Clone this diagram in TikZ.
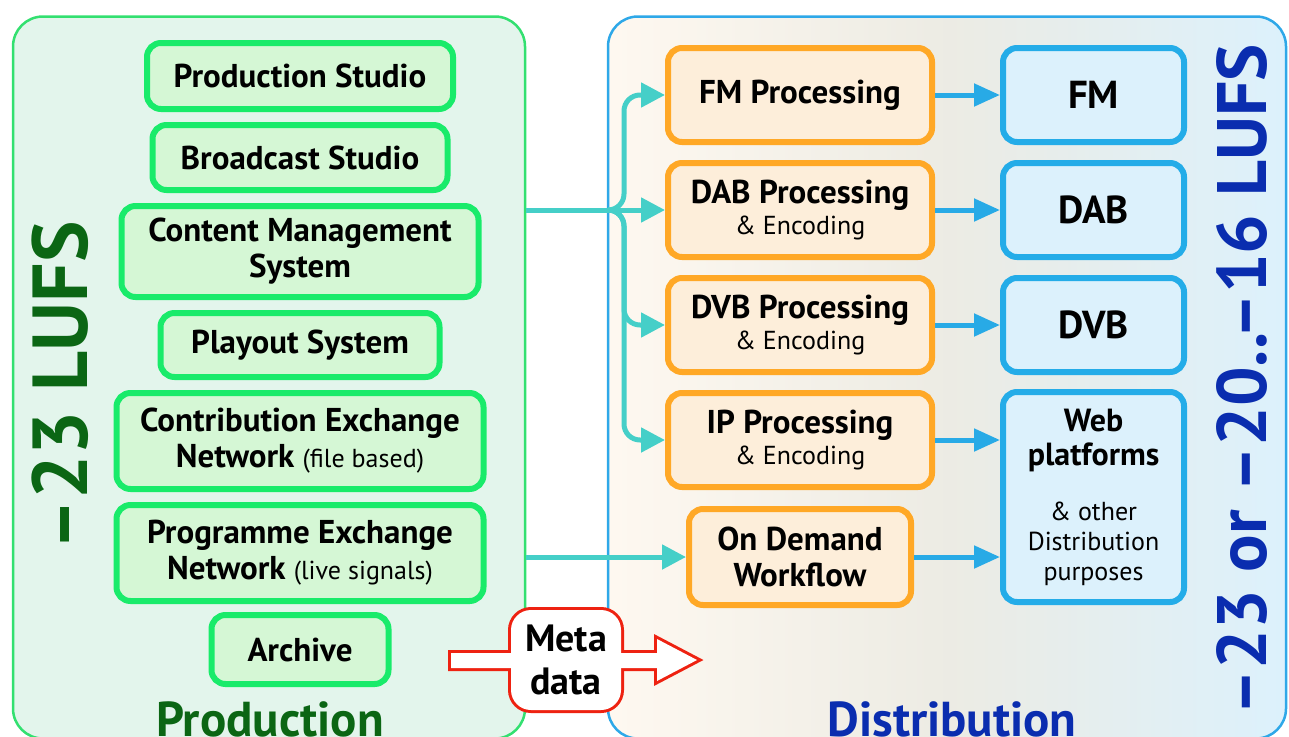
\documentclass[tikz,border=0pt]{standalone}
\usepackage{fontspec}
\setmainfont{PT Sans}
\usetikzlibrary{positioning}
\usetikzlibrary{arrows.meta}
\definecolor{prodline}{HTML}{19EB6A}
\definecolor{prodfill}{HTML}{D5F7D5}
\definecolor{prodpanelline}{HTML}{33E070}
\definecolor{prodpanelfill}{HTML}{E3F5EC}
\definecolor{prodtext}{HTML}{0B6614}
\definecolor{procline}{HTML}{FFA826}
\definecolor{procfill}{HTML}{FDEEDA}
\definecolor{distline}{HTML}{24ACE8}
\definecolor{distfill}{HTML}{DCF1FC}
\definecolor{distpanelline}{HTML}{2EA8E8}
\definecolor{disttext}{HTML}{0A2DAF}
\definecolor{feedteal}{HTML}{45CFC8}
\definecolor{deliverblue}{HTML}{28AAE6}
\definecolor{metared}{HTML}{EE2211}
\newcommand*{\smalltxt}[1]{{\mdseries\fontsize{26}{30}\selectfont #1}}
\newcommand*{\boxfont}{\bfseries\fontsize{33}{36}\selectfont}

\tikzset{
  prodbox/.style={draw=prodline, fill=prodfill, line width=6pt,
    rounded corners=14pt, inner sep=0pt, align=center, font=\boxfont},
  procbox/.style={draw=procline, fill=procfill, line width=6pt,
    rounded corners=14pt, inner sep=0pt, align=center, font=\boxfont},
  distbox/.style={draw=distline, fill=distfill, line width=6pt,
    rounded corners=14pt, inner sep=0pt, align=center,
    font=\bfseries\fontsize{39}{42}\selectfont},
  feed/.style={draw=feedteal, line width=5pt, -{Triangle[length=24pt,width=24pt]}},
  deliver/.style={draw=deliverblue, line width=5pt, -{Triangle[length=26pt,width=22pt]}},
}

\begin{document}
\begin{tikzpicture}[x=1pt,y=-1pt]
\useasboundingbox (0,0) rectangle (1289,736);
\clip (0,0) rectangle (1289,736);

% Panels
\node[draw=prodpanelline, fill=prodpanelfill,
    line width=2.5pt,
    rounded corners=30pt,
    minimum width=512pt,
    minimum height=722pt
] (prodpanel) at (269,377.5) {};

\node[draw=distpanelline,
    line width=2.5pt,
    rounded corners=30pt,
    left color=white!60!procfill, right color=distfill, middle color=black!4!distfill!40!procfill,
    minimum width=678pt,
    minimum height=722pt
] (distpanel) at (947,377.5) {};

% Production boxes
\node[prodbox, minimum width=306pt, minimum height=66pt] (prodstudio) at (300,76) {Production Studio};
\node[prodbox, minimum width=295pt, minimum height=65pt, below=10pt of prodstudio] (bcstudio) {Broadcast Studio};
\node[prodbox, minimum width=357pt, minimum height=91pt, below=10pt of bcstudio] (cms) {Content Management\\System};
\node[prodbox, minimum width=279pt, minimum height=64pt, below=10pt of cms] (playout) {Playout System};
\node[prodbox, minimum width=367pt, minimum height=96pt, below=10pt of playout] (contrib)
    {Contribution Exchange\\Network \smalltxt{(file based)}};
\node[prodbox, minimum width=367pt, minimum height=96pt, below=10pt of contrib] (progex)
    {Programme Exchange\\Network \smalltxt{(live signals)}};
\node[prodbox, minimum width=177pt, minimum height=69pt, below=8pt of progex] (archive) {Archive};

% Processing boxes
\node[procbox, minimum width=264pt, minimum height=94pt] (fmproc) at (800,95) {FM Processing};
\node[procbox, minimum width=264pt, minimum height=94pt, below=15pt of fmproc] (dabproc)
    {DAB Processing\\[-5pt]\smalltxt{\& Encoding}};
\node[procbox, minimum width=264pt, minimum height=94pt, below=15pt of dabproc] (dvbproc)
    {DVB Processing\\[-5pt]\smalltxt{\& Encoding}};
\node[procbox, minimum width=264pt, minimum height=94pt, below=15pt of dvbproc] (ipproc)
    {IP Processing\\[-5pt]\smalltxt{\& Encoding}};
\node[procbox, minimum width=222pt, minimum height=96pt] (ondemand) at (800,557) {On Demand\\Workflow};

% Distribution boxes
\node[distbox, minimum width=181pt, minimum height=94pt, right=65pt of fmproc] (fm) {FM};
\node[distbox, minimum width=181pt, minimum height=94pt, right=65pt of dabproc] (dab) {DAB};
\node[distbox, minimum width=181pt, minimum height=94pt, right=65pt of dvbproc] (dvb) {DVB};
\node[distbox, minimum width=181pt, minimum height=210pt, below=14pt of dvb,
    font=\bfseries\fontsize{32}{34}\selectfont] (web)
    {Web\\platforms\\[21pt]\smalltxt{\& other}\\[-4pt]\smalltxt{Distribution}\\[-4pt]\smalltxt{purposes}};

% Feeds into processing
\coordinate (split) at (608,210);
\coordinate (riser) at (624,210);
\draw[feed] (prodpanel.east |- dabproc) -- (dabproc.west);
\draw[feed, rounded corners=16pt] (split) -| (riser |- fmproc.west) -- (fmproc.west);
\foreach \proc in {dvbproc, ipproc}
    \draw[feed, rounded corners=16pt] (split) -| (riser |- \proc.west) -- (\proc.west);
\draw[feed] (prodpanel.east |- ondemand) -- (ondemand.west);

% Delivery arrows
\foreach \src/\dst in {fmproc/fm, dabproc/dab, dvbproc/dvb, ipproc/web, ondemand/web}
    \draw[deliver] (\src.east) -- (\dst.west |- \src.east);

% Side labels
\node[rotate=90, font=\bfseries\fontsize{78}{80}\selectfont, text=prodtext] (prodlufs) at (60,386) {–23 LUFS};
\node[rotate=90, font=\bfseries\fontsize{70}{72}\selectfont, text=disttext] (distlufs) at (1242,380) {–23 or –20..–16 LUFS};
\node[font=\bfseries\fontsize{49}{52}\selectfont, text=prodtext, anchor=base] (prodlabel) at (270,736) {Production};
\node[font=\bfseries\fontsize{49}{52}\selectfont, text=disttext, anchor=base] (distlabel) at (952,736) {Distribution};

% Meta data arrow
\draw[metared, line width=6pt] (451,653) -- (657,653) -- (657,639) -- (697,660) -- (657,681) -- (657,668) -- (451,668) -- cycle;
\draw[metared, line width=6pt, rounded corners=20pt] (511,610) rectangle (621,710);
\fill[white] (451,653) -- (657,653) -- (657,639) -- (697,660) -- (657,681) -- (657,668) -- (451,668) -- cycle;
\fill[white, rounded corners=20pt] (511,610) rectangle (621,710);
\node[font=\bfseries\fontsize{38}{43}\selectfont, align=center] (meta) at (566,660) {Meta\\data};

\end{tikzpicture}
\end{document}
